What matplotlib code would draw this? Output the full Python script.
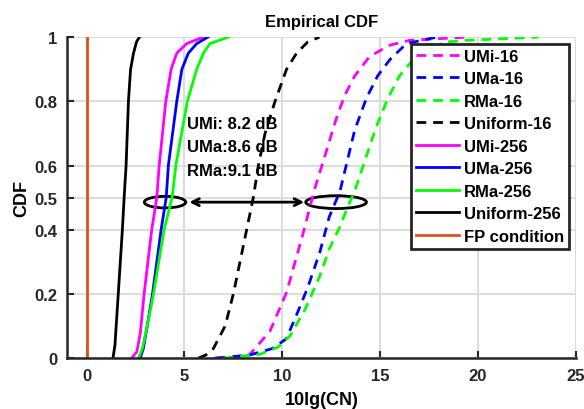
import numpy as np
import matplotlib.pyplot as plt
from matplotlib.patches import Ellipse

plt.rcParams['font.family'] = ['Liberation Sans', 'DejaVu Sans']
plt.rcParams['font.weight'] = 'bold'

# curvas (x em dB, y = CDF)
umi16_x = [6.5, 8.1, 8.35, 9.37, 10.22, 11.07, 11.67, 12.18, 12.78, 13.2, 13.71, 14.47, 15.5, 16.5, 19.4]
umi16_y = [0, 0.005, 0.012, 0.084, 0.205, 0.39, 0.53, 0.63, 0.75, 0.82, 0.88, 0.94, 0.975, 0.99, 1.0]
uma16_x = [6.6, 8.35, 9.5, 10.2, 10.7, 11.3, 11.92, 12.4, 12.95, 13.7, 14.3, 14.88, 15.5, 16.35, 17.9]
uma16_y = [0, 0.01, 0.03, 0.06, 0.13, 0.22, 0.33, 0.44, 0.52, 0.71, 0.81, 0.88, 0.93, 0.98, 1.0]
rma16_x = [7.0, 8.86, 9.8, 10.4, 11.15, 11.92, 12.4, 12.95, 13.37, 13.7, 14.3, 14.8, 15.4, 16.0, 16.7, 17.2, 18.4, 19.4, 23.1]
rma16_y = [0, 0.012, 0.035, 0.07, 0.15, 0.256, 0.34, 0.41, 0.475, 0.52, 0.63, 0.72, 0.81, 0.88, 0.93, 0.96, 0.985, 0.99, 1.0]
uni16_x = [5.71, 6.1, 6.48, 7.08, 7.5, 8.18, 8.52, 8.78, 9.12, 9.63, 10.22, 10.73, 11.3, 11.9]
uni16_y = [0, 0.01, 0.03, 0.1, 0.2, 0.4, 0.5, 0.6, 0.7, 0.8, 0.9, 0.95, 0.985, 1.0]

umi256_x = [2.3, 2.57, 2.75, 2.94, 3.33, 3.59, 3.71, 4.05, 4.32, 4.61, 5.12, 5.96]
umi256_y = [0, 0.02, 0.08, 0.2, 0.4, 0.5, 0.6, 0.8, 0.9, 0.95, 0.98, 1.0]
uma256_x = [2.74, 2.9, 3.1, 3.37, 3.81, 4.07, 4.18, 4.61, 4.87, 5.2, 5.63, 6.2]
uma256_y = [0, 0.03, 0.1, 0.2, 0.4, 0.5, 0.6, 0.8, 0.9, 0.95, 0.98, 1.0]
rma256_x = [2.65, 2.85, 3.1, 3.42, 3.96, 4.37, 4.56, 5.15, 5.63, 5.97, 6.31, 7.24]
rma256_y = [0, 0.03, 0.1, 0.2, 0.4, 0.5, 0.6, 0.8, 0.9, 0.95, 0.98, 1.0]
uni256_x = [1.35, 1.45, 1.62, 1.83, 1.92, 2.02, 2.14, 2.25, 2.4, 2.55, 2.7]
uni256_y = [0, 0.04, 0.2, 0.4, 0.5, 0.6, 0.8, 0.9, 0.95, 0.985, 1.0]

fp_x = [0, 0]
fp_y = [0, 1]

ganhos = ['UMi: 8.2 dB', 'UMa:8.6 dB', 'RMa:9.1 dB']

fig = plt.figure(figsize=(5.84, 4.10), dpi=100)
ax = fig.add_axes([0.1147, 0.124, 0.8713, 0.783])

tracejado = (3.5, 2.5)
lw = 2
ax.plot(umi16_x, umi16_y, color='#FF00FF', lw=lw, dashes=tracejado, label='UMi-16')
ax.plot(uma16_x, uma16_y, color='#0000FF', lw=lw, dashes=tracejado, label='UMa-16')
ax.plot(rma16_x, rma16_y, color='#00FF00', lw=lw, dashes=tracejado, label='RMa-16')
ax.plot(uni16_x, uni16_y, color='black', lw=lw, dashes=tracejado, label='Uniform-16')
ax.plot(umi256_x, umi256_y, color='#FF00FF', lw=lw, label='UMi-256')
ax.plot(uma256_x, uma256_y, color='#0000FF', lw=lw, label='UMa-256')
ax.plot(rma256_x, rma256_y, color='#00FF00', lw=lw, label='RMa-256')
ax.plot(uni256_x, uni256_y, color='black', lw=lw, label='Uniform-256')
ax.plot(fp_x, fp_y, color='#D95319', lw=lw, label='FP condition')

# elipses e seta
ax.add_patch(Ellipse((4.01, 0.486), 2.12, 0.036, fill=False, ec='black', lw=2))
ax.add_patch(Ellipse((12.75, 0.486), 3.1, 0.04, fill=False, ec='black', lw=2))
ax.annotate('', xy=(5.25, 0.486), xytext=(11.12, 0.486),
            arrowprops=dict(arrowstyle='<->,head_length=0.5,head_width=0.25',
                            color='black', lw=2, shrinkA=0, shrinkB=0))
for i, t in enumerate(ganhos):
    ax.text(5.15, 0.73 - i * 0.072, t, fontsize=12, fontweight='bold', va='center', ha='left')

ax.set_xlim(-1, 25)
ax.set_ylim(0, 1)
ax.set_xticks([0, 5, 10, 15, 20, 25])
ax.set_yticks([0, 0.2, 0.4, 0.5, 0.6, 0.8, 1])
ax.set_yticklabels(['0', '0.2', '0.4', '0.5', '0.6', '0.8', '1'])
ax.grid(True, color='#dcdcdc', lw=1.5)
ax.set_axisbelow(True)
for s in ['top', 'right']:
    ax.spines[s].set_visible(False)
for s in ['left', 'bottom']:
    ax.spines[s].set_linewidth(1.8)
    ax.spines[s].set_color('#262626')
ax.tick_params(direction='in', length=5, width=1.5, labelsize=12, colors='#262626', pad=7)

ax.set_title('Empirical CDF', fontsize=12, fontweight='bold', pad=8)
ax.set_xlabel('10lg(CN)', fontsize=13, fontweight='bold', labelpad=6)
ax.set_ylabel('CDF', fontsize=13, fontweight='bold', labelpad=3)

leg = ax.legend(loc='upper right', fontsize=12, handlelength=2.6, labelspacing=0.45,
                borderaxespad=0.4, fancybox=False, framealpha=1, handletextpad=0.3,
                borderpad=0.3)
leg.get_frame().set_edgecolor('#262626')
leg.get_frame().set_linewidth(2)

fig.savefig('out.png', dpi=100)
